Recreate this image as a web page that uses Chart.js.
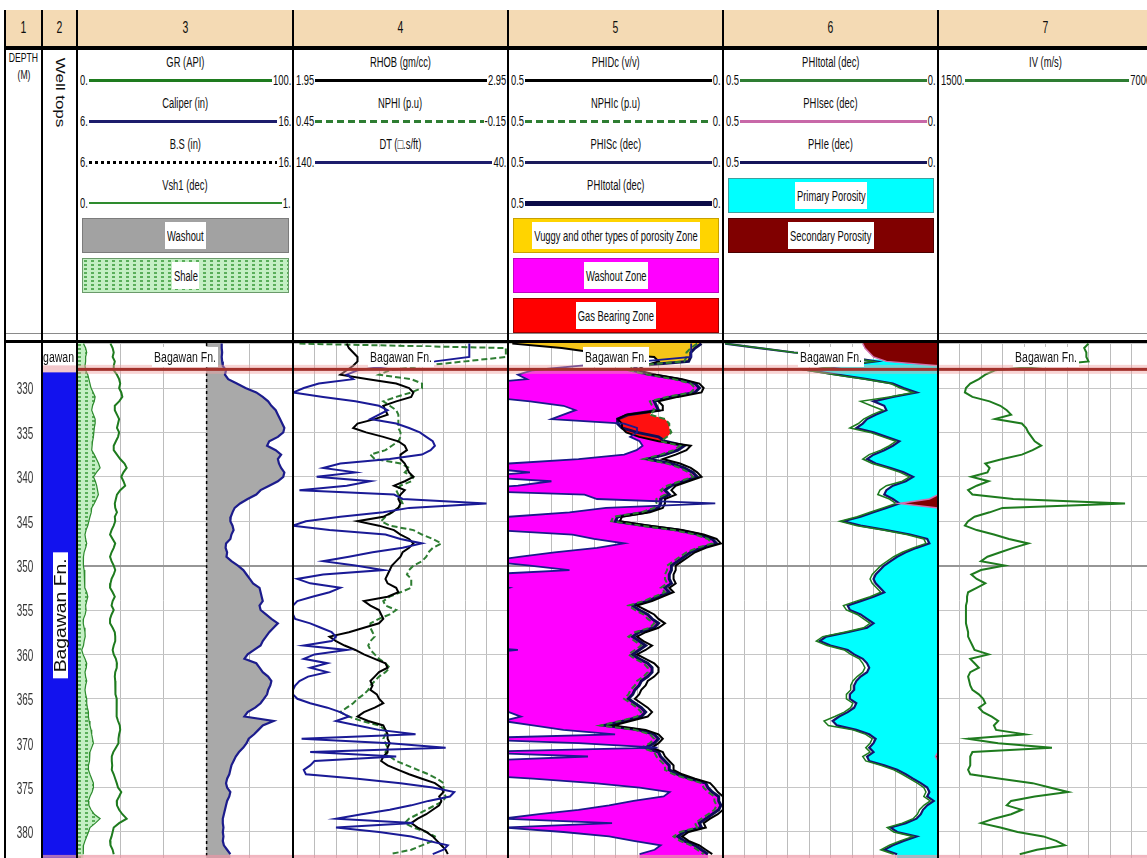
<!DOCTYPE html>
<html>
<head>
<meta charset="utf-8">
<title>Well log</title>
<script src="https://cdn.jsdelivr.net/npm/chart.js@4.4.1/dist/chart.umd.min.js"></script>
<style>
  html, body { margin:0; padding:0; background:#fff; }
  body { position:relative; width:1147px; height:858px; overflow:hidden; font-family:"Liberation Sans", Arial, sans-serif; }
</style>
</head>
<body>
<script>
// ------------------------------------------------------------------ DATA
const depth = [
325,325.5,326,326.5,327,327.5,328,328.5,329,329.5,
330,330.5,331,331.5,332,332.5,333,333.5,334,334.5,
335,335.5,336,336.5,337,337.5,338,338.5,339,339.5,
340,340.5,341,341.5,342,342.5,343,343.5,344,344.5,
345,345.5,346,346.5,347,347.5,348,348.5,349,349.5,
350,350.5,351,351.5,352,352.5,353,353.5,354,354.5,
355,355.5,356,356.5,357,357.5,358,358.5,359,359.5,
360,360.5,361,361.5,362,362.5,363,363.5,364,364.5,
365,365.5,366,366.5,367,367.5,368,368.5,369,369.5,
370,370.5,371,371.5,372,372.5,373,373.5,374,374.5,
375,375.5,376,376.5,377,377.5,378,378.5,379,379.5,
380,380.5,381,381.5,382,382.5];
const depthTicks = [330,335,340,345,350,355,360,365,370,375,380];
const trackNumbers = ['1','2','3','4','5','6','7'];
const formationName = 'Bagawan Fn.';
const formationTop = 327.9;
const formationLabelDepth = 326.5;
const topsLabelDepth = 355.6;
const dataBottom = 382.75;
const bitSize = 12;

// Track 3
const gr = [
15.5,16.5,17,16.5,17.5,17,17,18.5,19.5,20,
19.5,20.5,21,19.5,17.5,17.5,18.5,19.5,19,18.5,
19.5,19,18,17,17,18.5,20,22,23,21.5,
20.5,21.5,22.3,20,18.5,18,17.5,17.7,18.5,17.5,
17.7,17,16,15.3,16.5,17.7,17,16,15.3,16,
17,17.7,17,16,15.5,15.3,16.5,17.5,16.5,16,
17,16,15.3,15.3,16.5,17.5,17.7,17.7,17,16.5,
17,18,18.5,18.4,17.7,17.5,17.7,17.7,17.7,18,
18.4,18.4,18.2,18.4,18.4,19,19.8,20,19.5,19.2,
19.2,18,16.8,16.1,16.1,16.3,16.1,17,17.7,18.4,
19,20.5,19.5,18.4,18.5,19.5,21,23,19.5,17,
16.5,16,15.3,15.5,16.5,17];
const vsh = [
0.03,0.04,0.045,0.04,0.04,0.037,0.04,0.05,0.055,0.06,
0.065,0.075,0.084,0.08,0.072,0.068,0.076,0.084,0.084,0.08,
0.078,0.076,0.072,0.07,0.068,0.08,0.09,0.1,0.107,0.09,
0.076,0.085,0.091,0.095,0.099,0.09,0.08,0.068,0.066,0.06,
0.055,0.05,0.042,0.037,0.04,0.045,0.04,0.033,0.03,0.029,
0.03,0.033,0.035,0.037,0.035,0.037,0.045,0.05,0.045,0.04,
0.042,0.038,0.03,0.029,0.033,0.037,0.038,0.033,0.03,0.022,
0.028,0.037,0.045,0.043,0.037,0.04,0.045,0.04,0.037,0.04,
0.045,0.045,0.048,0.053,0.053,0.056,0.06,0.065,0.068,0.072,
0.076,0.068,0.06,0.06,0.056,0.053,0.053,0.06,0.068,0.076,
0.076,0.07,0.06,0.053,0.055,0.065,0.08,0.107,0.085,0.06,
0.053,0.045,0.037,0.03,0.029,0.029];
const caliper = [
12.7,12.7,12.72,12.7,12.72,12.75,12.9,12.85,13.0,13.4,
13.8,14.3,14.6,14.85,15.0,15.2,15.3,15.4,15.5,15.6,
15.55,15.3,14.9,14.8,15.2,15.45,15.3,15.35,15.45,15.6,
15.55,15.3,14.9,14.5,14.3,13.9,13.55,13.3,13.2,13.12,
13.1,13.2,13.25,13.15,13.1,12.9,12.88,12.95,12.92,13.15,
13.45,13.7,13.85,14.0,14.15,14.45,14.5,14.55,14.6,14.45,
14.5,14.75,15.0,15.3,15.1,14.9,14.75,14.6,14.5,14.2,
13.9,13.75,14.3,14.45,14.6,14.85,15.0,14.95,14.85,14.8,
14.65,14.5,14.25,13.9,13.75,15.1,14.6,14.4,14.2,13.95,
13.85,13.7,13.5,13.35,13.25,13.15,13.1,13.05,12.95,12.9,
12.95,13.1,13.05,12.95,12.9,12.85,12.8,12.75,12.75,12.78,
12.75,12.78,12.75,12.8,12.95,13.1];

// Track 4
const rhob = [
2.20,2.21,2.23,2.25,2.25,2.23,2.20,2.17,2.30,2.43,
2.49,2.51,2.50,2.43,2.37,2.38,2.39,2.33,2.25,2.23,
2.29,2.37,2.44,2.47,2.48,2.45,2.45,2.47,2.48,2.49,
2.51,2.47,2.42,2.47,2.45,2.44,2.45,2.44,2.41,2.37,
2.25,2.35,2.42,2.45,2.49,2.51,2.49,2.46,2.45,2.43,
2.41,2.40,2.39,2.38,2.39,2.43,2.44,2.39,2.28,2.31,
2.35,2.36,2.37,2.35,2.28,2.21,2.12,2.15,2.19,2.24,
2.28,2.33,2.38,2.39,2.35,2.33,2.31,2.32,2.31,2.34,
2.35,2.37,2.33,2.28,2.25,2.30,2.37,2.38,2.39,2.39,
2.40,2.39,2.39,2.37,2.36,2.39,2.44,2.49,2.55,2.61,
2.64,2.65,2.63,2.64,2.63,2.60,2.57,2.53,2.50,2.53,
2.57,2.60,2.62,2.64,2.66,2.67];
const nphi = [
0.432,-0.144,-0.144,-0.144,-0.03,0.09,0.18,0.21,0.12,0.09,
0.09,0.12,0.162,0.198,0.18,0.162,0.156,0.156,0.156,0.156,
0.15,0.15,0.156,0.174,0.192,0.234,0.222,0.15,0.126,0.138,
0.114,0.12,0.15,0.162,0.156,0.15,0.144,0.156,0.174,0.192,
0.204,0.18,0.114,0.09,0.06,0.036,0.06,0.072,0.078,0.09,
0.114,0.126,0.132,0.12,0.12,0.12,0.15,0.18,0.198,0.192,
0.162,0.18,0.21,0.234,0.234,0.228,0.222,0.234,0.24,0.234,
0.222,0.21,0.192,0.18,0.192,0.21,0.222,0.234,0.24,0.252,
0.27,0.282,0.30,0.318,0.294,0.258,0.21,0.192,0.192,0.198,
0.192,0.186,0.192,0.18,0.162,0.132,0.102,0.072,0.048,0.03,
0.03,0.03,0.024,0.03,0.054,0.078,0.102,0.126,0.138,0.114,
0.078,0.054,0.06,0.09,0.12,0.18];
const dt = [
58,58,58,58,74,95,110,115,112,128,
135,140,126,111,100,96,100,104,92,86,
81,78,75,74,76,80,95,118,126,111,
129,104,115,137,93,89,50,86,98,118,
134,140,123,97,90,80,89,103,114,126,
111,98,126,138,132,118,123,131,138,140,
140,140,139,132,127,122,120,122,135,115,
130,135,124,132,124,133,137,139,140,140,
138,132,124,118,114,120,110,100,83,136,
95,69,132,92,130,132,135,134,110,90,
75,65,67,77,85,95,108,120,84,120,
100,85,77,68,70,75];

// Track 5
const phidc = [
0.49,0.375,0.30,0.16,0.15,0.185,0.20,0.155,0.095,0.055,
0.045,0.05,0.105,0.15,0.14,0.14,0.225,0.245,0.235,0.235,
0.225,0.195,0.15,0.075,0.085,0.11,0.14,0.10,0.075,0.06,
0.05,0.08,0.11,0.12,0.11,0.135,0.135,0.14,0.17,0.235,
0.24,0.17,0.095,0.045,0.015,0.005,0.04,0.065,0.08,0.095,
0.11,0.11,0.115,0.115,0.11,0.125,0.115,0.14,0.165,0.2,
0.18,0.16,0.15,0.135,0.15,0.18,0.2,0.185,0.165,0.18,
0.2,0.18,0.16,0.15,0.15,0.16,0.175,0.18,0.19,0.195,
0.205,0.19,0.175,0.165,0.175,0.215,0.255,0.18,0.15,0.14,
0.15,0.165,0.14,0.135,0.125,0.115,0.115,0.095,0.065,0.03,
0.02,0.012,0.0,0.0,-0.005,0.0,0.012,0.03,0.045,0.04,
0.08,0.095,0.08,0.055,0.04,0.025];
const nphic = [
0.06,0.075,0.085,0.085,0.09,0.21,0.22,0.175,0.115,0.075,
0.065,0.075,0.13,0.17,0.165,0.16,0.17,0.135,0.125,0.125,
0.12,0.13,0.145,0.10,0.115,0.145,0.185,0.13,0.10,0.08,
0.07,0.10,0.13,0.145,0.135,0.155,0.155,0.16,0.19,0.255,
0.26,0.19,0.115,0.065,0.035,0.025,0.06,0.085,0.1,0.115,
0.13,0.13,0.135,0.135,0.13,0.145,0.135,0.16,0.185,0.22,
0.205,0.185,0.175,0.16,0.17,0.205,0.22,0.205,0.19,0.205,
0.22,0.205,0.185,0.175,0.175,0.185,0.2,0.205,0.215,0.22,
0.23,0.215,0.2,0.19,0.2,0.24,0.285,0.205,0.17,0.16,
0.17,0.19,0.16,0.155,0.145,0.135,0.135,0.115,0.085,0.05,
0.045,0.035,0.02,0.02,0.015,0.02,0.035,0.05,0.065,0.06,
0.1,0.115,0.1,0.075,0.06,0.045];
const phisc = [
0.074,0.074,0.074,0.074,0.187,0.336,0.442,0.477,0.456,0.569,
0.618,0.654,0.555,0.449,0.371,0.343,0.371,0.399,0.23,0.2,
0.2,0.216,0.194,0.187,0.201,0.230,0.336,0.498,0.555,0.449,
0.576,0.399,0.477,0.633,0.322,0.293,0.018,0.272,0.357,0.498,
0.611,0.654,0.534,0.350,0.300,0.230,0.293,0.392,0.470,0.555,
0.449,0.357,0.555,0.640,0.597,0.498,0.534,0.590,0.640,0.654,
0.654,0.654,0.647,0.597,0.562,0.527,0.512,0.527,0.618,0.477,
0.583,0.618,0.541,0.597,0.541,0.604,0.633,0.647,0.654,0.654,
0.640,0.597,0.541,0.498,0.470,0.512,0.442,0.371,0.251,0.625,
0.336,0.152,0.597,0.314,0.583,0.597,0.618,0.611,0.442,0.300,
0.194,0.124,0.138,0.208,0.265,0.336,0.428,0.512,0.258,0.512,
0.371,0.265,0.208,0.145,0.159,0.194];
const phitotal5 = [
0.05,0.065,0.075,0.075,0.08,0.2,0.21,0.165,0.105,0.065,
0.055,0.065,0.12,0.16,0.155,0.15,0.22,0.245,0.245,0.235,
0.2,0.15,0.135,0.09,0.105,0.135,0.175,0.12,0.09,0.07,
0.06,0.09,0.12,0.135,0.125,0.145,0.145,0.15,0.18,0.245,
0.25,0.18,0.105,0.055,0.025,0.015,0.05,0.075,0.09,0.105,
0.12,0.12,0.125,0.125,0.12,0.135,0.125,0.15,0.175,0.21,
0.195,0.175,0.165,0.15,0.16,0.195,0.21,0.195,0.18,0.195,
0.21,0.195,0.175,0.165,0.165,0.175,0.19,0.195,0.205,0.21,
0.22,0.205,0.19,0.18,0.19,0.23,0.275,0.195,0.16,0.15,
0.16,0.18,0.15,0.145,0.135,0.125,0.125,0.105,0.075,0.04,
0.035,0.025,0.01,0.01,0.005,0.01,0.025,0.04,0.055,0.05,
0.09,0.105,0.09,0.065,0.05,0.035];

// Track 6
const phitotal6 = [
0.495,0.415,0.335,0.215,0.15,0.23,0.305,0.24,0.17,0.11,
0.088,0.058,0.113,0.18,0.155,0.128,0.153,0.173,0.185,0.205,
0.158,0.128,0.098,0.113,0.133,0.16,0.175,0.153,0.118,0.088,
0.066,0.083,0.12,0.135,0.14,0.113,0.098,0.128,0.158,0.188,
0.228,0.188,0.128,0.073,0.033,0.028,0.058,0.083,0.103,0.118,
0.133,0.143,0.153,0.158,0.153,0.143,0.133,0.158,0.19,0.22,
0.213,0.188,0.173,0.158,0.173,0.218,0.268,0.283,0.258,0.218,
0.203,0.183,0.175,0.17,0.175,0.188,0.198,0.203,0.203,0.213,
0.213,0.198,0.203,0.218,0.24,0.265,0.255,0.198,0.168,0.153,
0.158,0.168,0.158,0.175,0.168,0.133,0.103,0.083,0.066,0.048,
0.033,0.028,0.033,0.018,0.033,0.043,0.048,0.058,0.083,0.118,
0.103,0.058,0.088,0.113,0.133,0.103];
const phisec = [
0.175,0.17,0.16,0.15,0.12,0,0,0,0,0,
0,0,0,0,0,0,0,0,0,0,
0,0,0,0,0,0,0,0,0,0,
0,0,0,0,0,0.02,0.09,0,0,0,
0,0,0,0,0,0,0,0,0,0,
0,0,0,0,0,0,0,0,0,0,
0,0,0,0,0,0,0,0,0,0,
0,0,0,0,0,0,0,0,0,0,
0,0,0,0,0,0,0,0,0,0,
0,0,0,0.006,0,0,0,0,0,0,
0,0,0,0,0,0,0,0,0,0,
0,0,0,0,0,0];
const phie = [
0.495,0.415,0.335,0.21,0.145,0.225,0.30,0.235,0.165,0.105,
0.08,0.05,0.105,0.15,0.125,0.12,0.145,0.165,0.175,0.19,
0.15,0.12,0.09,0.105,0.125,0.15,0.165,0.145,0.11,0.08,
0.058,0.075,0.105,0.12,0.125,0.105,0.09,0.12,0.15,0.18,
0.22,0.18,0.12,0.065,0.025,0.02,0.05,0.075,0.095,0.11,
0.125,0.135,0.145,0.15,0.145,0.135,0.125,0.15,0.18,0.21,
0.205,0.18,0.165,0.15,0.165,0.21,0.26,0.275,0.25,0.21,
0.195,0.175,0.165,0.16,0.165,0.18,0.19,0.195,0.195,0.205,
0.205,0.19,0.195,0.21,0.23,0.245,0.235,0.19,0.16,0.145,
0.15,0.16,0.15,0.165,0.16,0.125,0.095,0.075,0.058,0.04,
0.025,0.02,0.025,0.01,0.025,0.035,0.04,0.05,0.075,0.11,
0.095,0.05,0.08,0.105,0.125,0.095];

// Track 7
const iv = [
5350,5240,5295,5295,5350,4250,2958,2710,2545,2325,
2215,2188,2380,2820,3095,3260,3370,2958,3645,3755,
3810,3893,3975,4140,3920,3645,3150,2710,2820,2765,
2353,2793,2490,2270,2380,3425,6285,3150,2820,2435,
2270,2188,2490,2930,3315,3810,3425,3095,2765,2600,
3205,2600,2353,2490,2710,2490,2270,2243,2243,2215,
2215,2215,2215,2215,2243,2270,2270,2325,2380,2435,
2793,2325,2435,2545,2325,2270,2298,2325,2380,2545,
2655,2710,2545,2655,2875,3040,2930,2985,3728,2270,
3040,4415,2380,2325,2325,2325,2270,2325,3095,3920,
4360,4828,3975,3370,3260,3645,3370,2930,2600,3095,
3535,4195,4525,4745,4030,3590];

// ------------------------------------------------------------------ LAYOUT
const COLS = [[5,42],[42,77],[77,293],[293,508],[508,723],[723,938],[938,1153]];
const TOP = 343, H = 515;
const YMIN = 324.93, YMAX = 382.93;
const SX = 0.67;
const FONT = '"Liberation Sans", Arial, sans-serif';

const body = document.body;
function rect(x, y, w, h, css) {
  const e = document.createElement('div');
  e.style.cssText = `position:absolute;left:${x}px;top:${y}px;width:${w}px;height:${h}px;${css || ''}`;
  body.appendChild(e); return e;
}
const mctx = document.createElement('canvas').getContext('2d');
function tw(str, size) { mctx.font = `${size}px ${FONT}`; return mctx.measureText(str).width; }
function text(str, x, y, o = {}) {
  const size = o.size || 14, sx = o.sx || SX, sy = o.sy || 1, align = o.align || 'center';
  const w = tw(str, size);
  const left = align === 'center' ? x - w / 2 : align === 'left' ? x : x - w;
  const origin = align === 'center' ? '50% 50%' : align === 'left' ? '0 50%' : '100% 50%';
  const e = document.createElement('div');
  e.textContent = str;
  e.style.cssText = `position:absolute;white-space:nowrap;left:${left}px;top:${y - size / 2}px;width:${w}px;height:${size}px;` +
    `line-height:${size}px;font-size:${size}px;font-family:${FONT};color:${o.color || '#0e0e0e'};` +
    `transform-origin:${origin};transform:${o.rot ? `rotate(${o.rot}deg) ` : ''}scale(${sx},${sy});`;
  body.appendChild(e); return e;
}
function hline(x1, x2, y, kind, color, w) {
  let bg = color;
  if (kind === 'dash') bg = `repeating-linear-gradient(90deg, ${color} 0 7px, transparent 7px 11px)`;
  if (kind === 'dot') bg = `repeating-linear-gradient(90deg, ${color} 0 3px, transparent 3px 6px)`;
  rect(x1, y - w / 2, x2 - x1, w, `background:${bg}`);
}

// shale pattern tile
const shaleTile = document.createElement('canvas');
shaleTile.width = 7; shaleTile.height = 4;
{ const c = shaleTile.getContext('2d'); c.fillStyle = '#c4efc4'; c.fillRect(0, 0, 7, 4); c.fillStyle = '#5aae5a'; c.fillRect(1, 1, 3, 2); }

// ------------------------------------------------------------------ HEADER
rect(5, 10, 1142, 36, 'background:#f4dab4');
COLS.forEach((c, i) => text(trackNumbers[i], (c[0] + c[1]) / 2, 28, {size: 16, sx: 0.65}));
text('DEPTH', 23.5, 58, {size: 12, sx: 0.72});
text('(M)', 23.5, 75, {size: 12, sx: 0.72});
text('Well tops', 60, 92, {size: 17, sx: 1, sy: 0.7, rot: 90});

const hdrCurves = [
  {t:3,row:0,title:'GR (API)',l:'0.',r:'100.',kind:'solid',color:'#1e7b1e',w:3},
  {t:3,row:1,title:'Caliper (in)',l:'6.',r:'16.',kind:'solid',color:'#1c1c6c',w:3},
  {t:3,row:2,title:'B.S (in)',l:'6.',r:'16.',kind:'dot',color:'#000',w:3},
  {t:3,row:3,title:'Vsh1 (dec)',l:'0.',r:'1.',kind:'solid',color:'#2e8b2e',w:1.5},
  {t:4,row:0,title:'RHOB (gm/cc)',l:'1.95',r:'2.95',kind:'solid',color:'#000',w:3},
  {t:4,row:1,title:'NPHI (p.u)',l:'0.45',r:'-0.15',kind:'dash',color:'#2e7d32',w:3},
  {t:4,row:2,title:'DT (\u25A1.s/ft)',l:'140.',r:'40.',kind:'solid',color:'#1c1c6c',w:3},
  {t:5,row:0,title:'PHIDc (v/v)',l:'0.5',r:'0.',kind:'solid',color:'#000',w:3},
  {t:5,row:1,title:'NPHIc (p.u)',l:'0.5',r:'0.',kind:'dash',color:'#2e7d32',w:3},
  {t:5,row:2,title:'PHISc (dec)',l:'0.5',r:'0.',kind:'solid',color:'#1a1a5a',w:3},
  {t:5,row:3,title:'PHItotal (dec)',l:'0.5',r:'0.',kind:'solid',color:'#0b0b48',w:5},
  {t:6,row:0,title:'PHItotal (dec)',l:'0.5',r:'0.',kind:'solid',color:'#2e7d32',w:3},
  {t:6,row:1,title:'PHIsec (dec)',l:'0.5',r:'0.',kind:'solid',color:'#c868a8',w:3},
  {t:6,row:2,title:'PHIe (dec)',l:'0.5',r:'0.',kind:'solid',color:'#14145a',w:3},
  {t:7,row:0,title:'IV (m/s)',l:'1500.',r:'7000',kind:'solid',color:'#2e7d32',w:3}
];
hdrCurves.forEach(c => {
  const [L, R] = COLS[c.t - 1];
  const ly = 80 + c.row * 41;
  text(c.title, (L + R) / 2, ly - 18);
  const lw = tw(c.l, 14) * SX, rw = tw(c.r, 14) * SX;
  text(c.l, L + 3, ly, {align: 'left'});
  text(c.r, R - 2, ly, {align: 'right'});
  hline(L + 3 + lw + 1, R - 2 - rw - 1, ly, c.kind, c.color, c.w);
});

const boxes = [
  {t:3, y:218, h:35, fill:'#a2a2a2', border:'#7c7c7c', label:'Washout'},
  {t:3, y:258, h:35, fill:'shale', border:'#6a9a6a', label:'Shale'},
  {t:5, y:218, h:35, fill:'#ffd400', border:'#c8a000', label:'Vuggy and other types of porosity Zone'},
  {t:5, y:258, h:35, fill:'#ff00ff', border:'#c000c0', label:'Washout Zone'},
  {t:5, y:298, h:35, fill:'#ff0000', border:'#9a0000', label:'Gas Bearing Zone'},
  {t:6, y:178, h:35, fill:'#00ffff', border:'#3aa0a0', label:'Primary Porosity'},
  {t:6, y:218, h:35, fill:'#800000', border:'#4a0000', label:'Secondary Porosity'}
];
boxes.forEach(b => {
  const [L, R] = COLS[b.t - 1];
  const x = L + 5, w = R - 4 - x;
  const bg = b.fill === 'shale' ? `url(${shaleTile.toDataURL()})` : b.fill;
  rect(x, b.y, w, b.h, `background:${bg};border:1px solid ${b.border};box-sizing:border-box;`);
  const lw = tw(b.label, 14) * SX + 4;
  rect(x + w / 2 - lw / 2, b.y + 4, lw, b.h - 8, 'background:#fff');
  text(b.label, x + w / 2, b.y + b.h / 2);
});

// ------------------------------------------------------------------ CHART HELPERS
function makeCanvas(left, w) {
  const c = document.createElement('canvas');
  c.width = w; c.height = H;
  c.style.cssText = `position:absolute;left:${left}px;top:${TOP}px;width:${w}px;height:${H}px;display:block;`;
  body.appendChild(c); return c;
}
function drawText(ctx, str, x, y, size, sx, color, align) {
  ctx.save(); ctx.translate(x, y); ctx.scale(sx, 1);
  ctx.font = `${size}px ${FONT}`; ctx.textAlign = align || 'center'; ctx.textBaseline = 'middle';
  ctx.fillStyle = color || '#121212'; ctx.fillText(str, 0, 0); ctx.restore();
}
function yScale(display) {
  return {type: 'linear', min: YMIN, max: YMAX, reverse: true, display: display,
    ticks: {display: false, stepSize: 5, includeBounds: false},
    grid: {drawTicks: false,
      color: c => (c.tick && c.tick.value % 50 === 0) ? '#969696' : '#c6c6c6',
      lineWidth: c => (c.tick && c.tick.value % 50 === 0) ? 2 : 1},
    border: {display: false}};
}
function curveAxis(min, max, reverse) { return {type: 'linear', min: min, max: max, reverse: !!reverse, display: false}; }
function gridAxis(n) {
  return {type: 'linear', position: 'bottom', min: 0, max: n, display: true,
    ticks: {display: false, stepSize: 1}, grid: {drawTicks: false, color: '#bcbcbc', lineWidth: 1}, border: {display: false}};
}
function line(vals, axis, color, width, dash) {
  return {data: vals.map((v, i) => ({x: v, y: depth[i]})), xAxisID: axis, yAxisID: 'y', showLine: true,
    borderColor: color, borderWidth: width, borderDash: dash || [], pointRadius: 0, tension: 0, fill: false};
}
function sidePath(ctx, chart, b, edgeX) {
  const xs = chart.scales[b.axis], ys = chart.scales.y;
  const pts = [];
  if (typeof b.values === 'number') {
    const px = xs.getPixelForValue(b.values);
    pts.push([px, ys.top - 10], [px, ys.bottom + 10]);
  } else {
    b.values.forEach((v, i) => pts.push([xs.getPixelForValue(v), ys.getPixelForValue(depth[i])]));
    pts.unshift([pts[0][0], ys.top - 10]);
    pts.push([pts[pts.length - 1][0], ys.bottom + 10]);
  }
  ctx.beginPath();
  ctx.moveTo(pts[0][0], pts[0][1]);
  for (let k = 1; k < pts.length; k++) ctx.lineTo(pts[k][0], pts[k][1]);
  ctx.lineTo(edgeX, pts[pts.length - 1][1]);
  ctx.lineTo(edgeX, pts[0][1]);
  ctx.closePath();
}
function fillPlugin(fills) {
  return {id: 'logFill', beforeDatasetsDraw(chart) {
    const {ctx, chartArea: a} = chart; const ys = chart.scales.y;
    fills.forEach(f => {
      ctx.save();
      const t = Math.max(a.top, f.from !== undefined ? ys.getPixelForValue(f.from) : a.top);
      const bt = Math.min(a.bottom, f.to !== undefined ? ys.getPixelForValue(f.to) : a.bottom);
      ctx.beginPath(); ctx.rect(a.left, t, a.right - a.left, bt - t); ctx.clip();
      if (f.right) { sidePath(ctx, chart, f.right, a.left - 60); ctx.clip(); }
      if (f.left) sidePath(ctx, chart, f.left, a.right + 60);
      else { ctx.beginPath(); ctx.rect(a.left - 60, a.top - 60, a.right - a.left + 120, a.bottom - a.top + 120); }
      ctx.fillStyle = f.color === 'shale' ? ctx.createPattern(shaleTile, 'repeat') : f.color;
      ctx.fill();
      ctx.restore();
    });
  }};
}
function decorPlugin() {
  return {id: 'decor', afterDatasetsDraw(chart) {
    const {ctx, chartArea: a} = chart; const ys = chart.scales.y;
    ctx.save();
    ctx.beginPath(); ctx.rect(a.left, a.top, a.right - a.left, a.bottom - a.top); ctx.clip();
    const yb = ys.getPixelForValue(dataBottom);
    ctx.fillStyle = 'rgba(236,150,165,0.7)'; ctx.fillRect(a.left, yb - 1.5, a.right - a.left, 3);
    const yt = ys.getPixelForValue(formationTop);
    ctx.fillStyle = 'rgba(240,160,160,0.45)'; ctx.fillRect(a.left, yt - 4.5, a.right - a.left, 9);
    ctx.fillStyle = '#a3322c'; ctx.fillRect(a.left, yt - 1.5, a.right - a.left, 3);
    const cx = a.left + 108, cy = ys.getPixelForValue(formationLabelDepth);
    ctx.fillStyle = '#fff'; ctx.fillRect(cx - 33, cy - 10, 66, 20);
    drawText(ctx, formationName, cx, cy + 1, 14, 0.75);
    ctx.restore();
  }};
}
function baseOptions(scales) {
  return {responsive: false, animation: false, events: [], devicePixelRatio: 1,
    layout: {padding: 0}, plugins: {legend: {display: false}, tooltip: {enabled: false}},
    scales: scales};
}

// ------------------------------------------------------------------ CHARTS
// 1: depth column
new Chart(makeCanvas(5, 37), {
  type: 'scatter', data: {datasets: []},
  options: baseOptions({x: {type: 'linear', min: 0, max: 1, display: false}, y: yScale(false)}),
  plugins: [{id: 'depthLabels', afterDraw(chart) {
    const ys = chart.scales.y;
    depthTicks.forEach(d => drawText(chart.ctx, String(d), 20, ys.getPixelForValue(d) + 2, 16, 0.62, '#333'));
  }}]
});

// 2: well tops
const wellTops = [{name: formationName, top: formationTop, base: YMAX}];
new Chart(makeCanvas(43, 34), {
  type: 'bar',
  data: {labels: wellTops.map(w => w.name),
    datasets: [{data: wellTops.map(w => [w.top, w.base]), backgroundColor: '#1212ee', borderWidth: 0,
      barPercentage: 1, categoryPercentage: 1}]},
  options: baseOptions({x: {display: false}, y: {type: 'linear', min: YMIN, max: YMAX, reverse: true, display: false}}),
  plugins: [{id: 'topsDecor', afterDatasetsDraw(chart) {
    const {ctx, chartArea: a} = chart; const ys = chart.scales.y;
    ctx.save();
    ctx.beginPath(); ctx.rect(a.left, a.top, a.right - a.left, a.bottom - a.top); ctx.clip();
    const yt = ys.getPixelForValue(formationTop);
    ctx.fillStyle = '#f4c8cc'; ctx.fillRect(a.left, yt - 4, a.right - a.left, 7);
    const yb = ys.getPixelForValue(dataBottom);
    ctx.fillStyle = 'rgba(236,150,165,0.7)'; ctx.fillRect(a.left, yb - 1.5, a.right - a.left, 3);
    drawText(ctx, formationName.split(' ')[0], a.right - 3, ys.getPixelForValue(formationLabelDepth) + 1, 14, 0.75, '#121212', 'right');
    const cy = ys.getPixelForValue(topsLabelDepth), cx = a.left + 17.5;
    ctx.fillStyle = '#fff'; ctx.fillRect(cx - 7.5, cy - 63, 15, 126);
    ctx.translate(cx, cy); ctx.rotate(-Math.PI / 2);
    ctx.font = `20px ${FONT}`;
    const m = ctx.measureText(formationName).width;
    ctx.scale(114 / m, 0.78);
    ctx.textAlign = 'center'; ctx.textBaseline = 'middle'; ctx.fillStyle = '#121212';
    ctx.fillText(formationName, 0, 1);
    ctx.restore();
  }}]
});

// 3: GR / caliper / BS / Vsh
new Chart(makeCanvas(77, 216), {
  type: 'scatter',
  data: {datasets: [
    line(vsh, 'xVsh', '#2e8b2e', 1.2),
    line(gr, 'xGR', '#1e7b1e', 2),
    {data: [{x: bitSize, y: YMIN}, {x: bitSize, y: YMAX}], xAxisID: 'xCal', yAxisID: 'y', showLine: true,
      borderColor: '#000', borderWidth: 1.5, borderDash: [3, 3], pointRadius: 0},
    line(caliper, 'xCal', '#1c1c8c', 2.2)
  ]},
  options: baseOptions({xg: gridAxis(5), xGR: curveAxis(0, 100), xCal: curveAxis(6, 16), xVsh: curveAxis(0, 1), y: yScale(true)}),
  plugins: [fillPlugin([
    {right: {axis: 'xVsh', values: vsh}, color: 'shale'},
    {left: {axis: 'xCal', values: bitSize}, right: {axis: 'xCal', values: caliper}, color: '#a9a9a9'}
  ]), decorPlugin()]
});

// 4: RHOB / NPHI / DT
new Chart(makeCanvas(293, 215), {
  type: 'scatter',
  data: {datasets: [
    line(dt, 'xDT', '#1a1a96', 2),
    line(rhob, 'xRHOB', '#000', 2),
    line(nphi, 'xNPHI', '#2e7d32', 2, [6, 3])
  ]},
  options: baseOptions({xg: gridAxis(10), xRHOB: curveAxis(1.95, 2.95), xNPHI: curveAxis(-0.15, 0.45, true),
    xDT: curveAxis(40, 140, true), y: yScale(true)}),
  plugins: [decorPlugin()]
});

// 5: porosities with zones
new Chart(makeCanvas(508, 215), {
  type: 'scatter',
  data: {datasets: [
    line(phisc, 'xP', '#1a1a8c', 1.8),
    line(nphic, 'xP', '#2e7d32', 2, [6, 3]),
    line(phidc, 'xP', '#000', 2),
    line(phitotal5, 'xP', '#0d0d55', 3)
  ]},
  options: baseOptions({xg: gridAxis(10), xP: curveAxis(0, 0.5, true), y: yScale(true)}),
  plugins: [fillPlugin([
    {left: {axis: 'xP', values: phisc}, right: {axis: 'xP', values: phitotal5}, color: '#ff00ff', from: formationTop},
    {left: {axis: 'xP', values: phidc}, right: {axis: 'xP', values: phitotal5}, color: '#f5c518', to: formationTop},
    {left: {axis: 'xP', values: phidc}, right: {axis: 'xP', values: nphic}, color: '#ff1010', from: 332.8, to: 336.3}
  ]), decorPlugin()]
});

// 6: primary / secondary porosity
new Chart(makeCanvas(723, 215), {
  type: 'scatter',
  data: {datasets: [
    line(phisec, 'xP', '#d070b0', 1.5),
    line(phitotal6, 'xP', '#1e7b1e', 1.5),
    line(phie, 'xP', '#14146e', 2.2)
  ]},
  options: baseOptions({xg: gridAxis(10), xP: curveAxis(0, 0.5, true), y: yScale(true)}),
  plugins: [fillPlugin([
    {left: {axis: 'xP', values: phie}, color: '#00ffff', from: 326.8},
    {left: {axis: 'xP', values: phisec}, color: '#800000'}
  ]), decorPlugin()]
});

// 7: IV
new Chart(makeCanvas(938, 215), {
  type: 'scatter',
  data: {datasets: [line(iv, 'xIV', '#1e7b1e', 2)]},
  options: baseOptions({xg: gridAxis(10), xIV: curveAxis(1500, 7000), y: yScale(true)}),
  plugins: [decorPlugin()]
});

// ------------------------------------------------------------------ FRAME LINES
rect(4, 46, 1143, 4, 'background:#000');
rect(5, 333, 1142, 1, 'background:#8a8a8a');
rect(4, 340, 1143, 3, 'background:#000');
rect(4, 10, 1.5, 848, 'background:#000');
[42, 77, 293, 508, 723, 938].forEach(x => rect(x - 1, 10, 2, 848, 'background:#000'));
</script>
</body>
</html>
